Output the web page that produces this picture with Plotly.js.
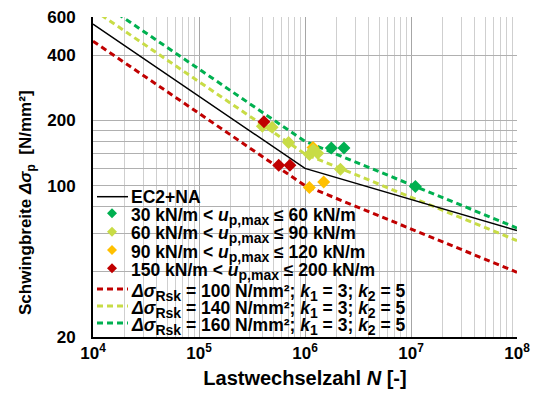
<!DOCTYPE html>
<html>
<head>
<meta charset="utf-8">
<script src="https://cdn.plot.ly/plotly-3.0.1.min.js"></script>
<style>html,body{margin:0;padding:0;background:#fff;}#chart{width:537px;height:394px;}</style>
</head>
<body>
<div id="chart"></div>
<script>
// ---- data ----
const ec2N = [1e4, 1e6, 1e8];
const ec2S = [557, 120, 62];

const rsk100N = [1e4, 1e6, 1e8];
const rsk100S = [464, 100, 39.8];
const rsk140N = [1e4, 1e6, 1e8];
const rsk140S = [650, 140, 55.7];
const rsk160N = [1e4, 1e6, 1e8];
const rsk160S = [743, 160, 63.7];

const green30N = [1.77e6, 2.33e6, 1.10e7];
const green30S = [149, 149, 99];
const yel60N = [3.96e5, 4.9e5, 7.0e5, 1.1e6, 1.2e6, 1.32e6, 2.16e6];
const yel60S = [188, 186, 158, 139, 146, 141, 119];
const ora90N = [1.19e6, 1.1e6, 1.5e6];
const ora90S = [150, 98, 104];
const red150N = [4.1e5, 5.65e5, 7.2e5];
const red150S = [197, 124, 124];

const SUB = t => '<sub><span style="font-size:14px">' + t + '</span></sub>';
const seriesNames = [
  'EC2+NA',
  '30 kN/m < <i>u</i>' + SUB('p,max') + ' ≤ 60 kN/m',
  '60 kN/m < <i>u</i>' + SUB('p,max') + ' ≤ 90 kN/m',
  '90 kN/m < <i>u</i>' + SUB('p,max') + ' ≤ 120 kN/m',
  '150 kN/m < <i>u</i>' + SUB('p,max') + ' ≤ 200 kN/m',
  '<i>Δσ</i>' + SUB('Rsk') + ' = 100 N/mm²; <i>k</i>' + SUB('1') + ' = 3; <i>k</i>' + SUB('2') + ' = 5',
  '<i>Δσ</i>' + SUB('Rsk') + ' = 140 N/mm²; <i>k</i>' + SUB('1') + ' = 3; <i>k</i>' + SUB('2') + ' = 5',
  '<i>Δσ</i>' + SUB('Rsk') + ' = 160 N/mm²; <i>k</i>' + SUB('1') + ' = 3; <i>k</i>' + SUB('2') + ' = 5'
];
const xTitle = '<b>Lastwechselzahl <i>N</i> [-]</b>';
const yTitle = '<b>Schwingbreite <i>Δσ</i><sub>p</sub>\u00a0 [N/mm²]</b>';

const xTickVals = [1e4, 1e5, 1e6, 1e7, 1e8];
const xTickText = ['10<sup>4</sup>', '10<sup>5</sup>', '10<sup>6</sup>', '10<sup>7</sup>', '10<sup>8</sup>'];
const xMinorVals = [2e4,3e4,4e4,5e4,6e4,7e4,8e4,9e4,
                    2e5,3e5,4e5,5e5,6e5,7e5,8e5,9e5,
                    2e6,3e6,4e6,5e6,6e6,7e6,8e6,9e6,
                    2e7,3e7,4e7,5e7,6e7,7e7,8e7,9e7];
const yTickVals = [20, 100, 200, 400, 600];
const yTickText = ['20', '100', '200', '400', '600'];
const yMinorVals = [40, 60, 80, 120, 140, 160, 180];

// ---- styles ----
const C_GREEN = '#00B050', C_YEL = '#C8DC46', C_ORA = '#FFC000', C_RED = '#C00000';
const FONT = 'Liberation Sans, Arial, sans-serif';
const DASH = '6px,4px';

const traces = [
  {x: rsk100N, y: rsk100S, mode: 'lines', line: {color: C_RED, width: 3, dash: DASH}},
  {x: rsk140N, y: rsk140S, mode: 'lines', line: {color: C_YEL, width: 3, dash: DASH}},
  {x: rsk160N, y: rsk160S, mode: 'lines', line: {color: C_GREEN, width: 3, dash: DASH}},
  {x: ec2N, y: ec2S, mode: 'lines', line: {color: '#000', width: 1.5}},
  {x: ora90N, y: ora90S, mode: 'markers', marker: {symbol: 'diamond', size: 10, color: C_ORA}},
  {x: yel60N, y: yel60S, mode: 'markers', marker: {symbol: 'diamond', size: 10, color: C_YEL}},
  {x: green30N, y: green30S, mode: 'markers', marker: {symbol: 'diamond', size: 10, color: C_GREEN}},
  {x: red150N, y: red150S, mode: 'markers', marker: {symbol: 'diamond', size: 10, color: C_RED}}
];

// plot area geometry in pixels
const L = 93, R = 20, T = 17, B = 57, W = 537, H = 394;
const PW = W - L - R, PH = H - T - B;
const px = v => (v - L) / PW;
const py = v => (H - B - v) / PH;

// custom legend
const rows = [196.7, 213.3, 231.7, 250, 268.3, 289, 306, 323];
const sampleKinds = [
  {type: 'line', color: '#000', width: 1.5, dash: 'solid'},
  {type: 'dia', color: C_GREEN},
  {type: 'dia', color: C_YEL},
  {type: 'dia', color: C_ORA},
  {type: 'dia', color: C_RED},
  {type: 'line', color: C_RED, width: 3, dash: DASH},
  {type: 'line', color: C_YEL, width: 3, dash: DASH},
  {type: 'line', color: C_GREEN, width: 3, dash: DASH}
];

const shapes = [
  {type: 'rect', xref: 'paper', yref: 'paper', x0: px(97), x1: px(366), y0: py(189), y1: py(279),
   fillcolor: '#fff', line: {width: 0}, layer: 'between'},
  {type: 'rect', xref: 'paper', yref: 'paper', x0: px(97), x1: px(408), y0: py(278), y1: py(336),
   fillcolor: '#fff', line: {width: 0}, layer: 'between'}
];
const annotations = [];
rows.forEach((ry, i) => {
  const k = sampleKinds[i];
  if (k.type === 'line') {
    shapes.push({type: 'line', xref: 'paper', yref: 'paper', x0: px(97), x1: px(128), y0: py(ry), y1: py(ry),
      line: {color: k.color, width: k.width, dash: k.dash}, layer: 'above'});
  } else {
    shapes.push({type: 'path', xref: 'paper', yref: 'paper', xsizemode: 'pixel', ysizemode: 'pixel',
      xanchor: px(112), yanchor: py(ry), path: 'M0,5 L5,0 L0,-5 L-5,0 Z',
      fillcolor: k.color, line: {width: 0}, layer: 'above'});
  }
  const hasSub = seriesNames[i].indexOf('<sub>') >= 0;
  annotations.push({xref: 'paper', yref: 'paper', x: px(129), y: py(ry + (hasSub ? 3 : 0)),
    xanchor: 'left', yanchor: 'middle', showarrow: false,
    text: '<b>' + seriesNames[i] + '</b>', font: {family: FONT, size: 17.5, color: '#000'}});
});
// y-axis title placed as a rotated annotation
annotations.push({xref: 'paper', yref: 'paper', x: px(27), y: py(203), xanchor: 'center', yanchor: 'middle',
  textangle: -90, showarrow: false, text: yTitle, font: {family: FONT, size: 17, color: '#000', weight: 'bold'}});

const layout = {
  width: W, height: H,
  margin: {l: L, r: R, t: T, b: B},
  paper_bgcolor: '#fff', plot_bgcolor: '#fff',
  showlegend: false,
  font: {family: FONT, color: '#000'},
  xaxis: {
    type: 'log', range: [4, 8], tickmode: 'array', tickvals: xTickVals, ticktext: xTickText,
    tickfont: {family: FONT, size: 17, color: '#000', weight: 'bold'},
    showgrid: true, gridcolor: '#a6a6a6', gridwidth: 1,
    minor: {tickmode: 'array', tickvals: xMinorVals, showgrid: true, gridcolor: '#cfcfcf', gridwidth: 1, ticks: ''},
    showline: true, linecolor: '#000', linewidth: 2, ticks: '', zeroline: false,
    title: {text: xTitle, font: {family: FONT, size: 20, color: '#000'}, standoff: 9}
  },
  yaxis: {
    type: 'log', range: [Math.log10(20), Math.log10(600)], tickmode: 'array', tickvals: yTickVals, ticktext: yTickText,
    tickfont: {family: FONT, size: 17, color: '#000', weight: 'bold'},
    ticklabelstandoff: 12,
    showgrid: true, gridcolor: '#b0b0b0', gridwidth: 1,
    minor: {tickmode: 'array', tickvals: yMinorVals, showgrid: true, gridcolor: '#b0b0b0', gridwidth: 1, ticks: ''},
    showline: true, linecolor: '#000', linewidth: 2, ticks: '', zeroline: false
  },
  shapes: shapes,
  annotations: annotations,
  hovermode: false
};

Plotly.newPlot('chart', traces, layout, {staticPlot: true, displayModeBar: false});
</script>
</body>
</html>
